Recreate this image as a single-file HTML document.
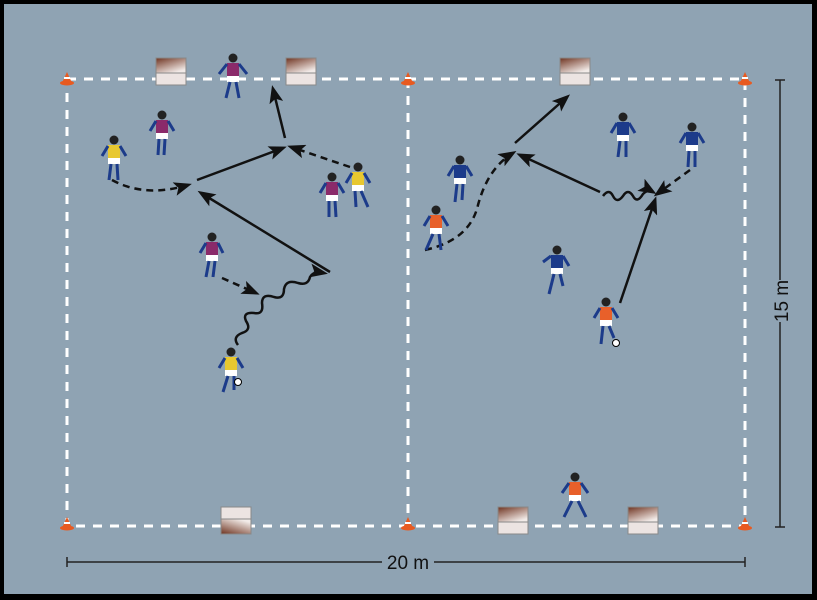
<!DOCTYPE html>
<html><head><style>body{margin:0}svg{display:block}</style></head><body>
<svg width="817" height="600" viewBox="0 0 817 600" xmlns="http://www.w3.org/2000/svg">
<defs>
<marker id="a" markerWidth="18" markerHeight="14" refX="14" refY="7" orient="auto" markerUnits="userSpaceOnUse" viewBox="0 0 18 14"><path d="M0,0 L18,7 L0,14 L4,7 z" fill="#111"/></marker>
<linearGradient id="bx" x1="0" y1="0" x2="0.6" y2="1"><stop offset="0" stop-color="#6e3320"/><stop offset="1" stop-color="#f2ebe8"/></linearGradient>
<g id="box"><rect x="0" y="0" width="30" height="15" fill="url(#bx)" stroke="#888"/><rect x="0" y="15" width="30" height="12" fill="#ece4e2" stroke="#888"/></g>
<g id="cone"><path d="M-5,4 L0,-7 L5,4 z" fill="#e85a20"/><ellipse cx="0" cy="4" rx="7" ry="2.5" fill="#e85a20"/><rect x="-3" y="-2" width="6" height="2" fill="#fff"/></g>
</defs>
<rect width="817" height="600" fill="#000"/>
<rect x="4" y="4" width="808" height="590" fill="#8fa3b3"/>
<g stroke="#fff" stroke-width="3" stroke-dasharray="9 8" fill="none">
<rect x="67" y="79" width="678" height="447"/>
<line x1="408" y1="79" x2="408" y2="526"/>
</g>
<use href="#cone" x="67" y="79"/><use href="#cone" x="408" y="79"/><use href="#cone" x="745" y="79"/>
<use href="#cone" x="67" y="524"/><use href="#cone" x="408" y="524"/><use href="#cone" x="745" y="524"/>
<use href="#box" x="156" y="58"/><use href="#box" x="286" y="58"/><use href="#box" x="560" y="58"/>
<g transform="translate(221,534) scale(1,-1)"><use href="#box"/></g>
<use href="#box" x="498" y="507"/><use href="#box" x="628" y="507"/>
<g stroke="#222" stroke-width="1.5">
<line x1="67" y1="562" x2="745" y2="562"/><line x1="67" y1="557" x2="67" y2="567"/><line x1="745" y1="557" x2="745" y2="567"/>
<line x1="780" y1="80" x2="780" y2="527"/><line x1="775" y1="80" x2="785" y2="80"/><line x1="775" y1="527" x2="785" y2="527"/>
</g>
<rect x="382" y="551" width="52" height="22" fill="#8fa3b3"/>
<text x="408" y="569" font-family="Liberation Sans, sans-serif" font-size="19" text-anchor="middle" fill="#111">20 m</text>
<rect x="770" y="280" width="22" height="42" fill="#8fa3b3"/>
<text x="0" y="0" transform="translate(788,301) rotate(-90)" font-family="Liberation Sans, sans-serif" font-size="19" text-anchor="middle" fill="#111">15 m</text>
<g stroke="#111" stroke-width="2.5" fill="none" marker-end="url(#a)">
<line x1="197" y1="180" x2="283" y2="148"/>
<line x1="330" y1="272" x2="201" y2="193"/>
<line x1="285" y1="138" x2="273" y2="89"/>
<line x1="350" y1="167" x2="291" y2="147" stroke-dasharray="7 5"/>
<path d="M112,180 Q145,198 188,185" stroke-dasharray="7 5"/>
<line x1="222" y1="278" x2="256" y2="293" stroke-dasharray="7 5"/>
<path d="M238,345 q-6,-8 4,-12 q10,-3 4,-12 q-4,-9 8,-8 q10,2 8,-10 q0,-10 12,-6 q10,3 10,-8 q2,-10 14,-6 q10,3 12,-6 q3,-6 14,-4" />
<line x1="515" y1="143" x2="567" y2="97"/>
<line x1="600" y1="192" x2="520" y2="155"/>
<line x1="620" y1="303" x2="655" y2="200"/>
<path d="M425,250 Q470,240 478,205 Q488,168 513,153" stroke-dasharray="7 5"/>
<line x1="690" y1="170" x2="657" y2="194" stroke-dasharray="7 5"/>
<path d="M603,196 q6,-8 10,0 q4,8 10,0 q5,-8 10,0 q4,8 10,-2 q5,-5 10,-2"/>
</g>
<g>
<g transform="translate(233,78)"><circle cx="0" cy="-20" r="4.5" fill="#222"/><rect x="-6" y="-15" width="12" height="13" fill="#8a2a6a"/><path d="M-6,-14 L-14,-4 M6,-14 L14,-4" stroke="#1c3b8a" stroke-width="3"/><rect x="-6" y="-2" width="12" height="6" fill="#fff"/><path d="M-3,4 L-7,20 M3,4 L6,20" stroke="#1c3b8a" stroke-width="3"/></g>
<g transform="translate(162,135)"><circle cx="0" cy="-20" r="4.5" fill="#222"/><rect x="-6" y="-15" width="12" height="13" fill="#8a2a6a"/><path d="M-6,-14 L-12,-4 M6,-14 L12,-4" stroke="#1c3b8a" stroke-width="3"/><rect x="-6" y="-2" width="12" height="6" fill="#fff"/><path d="M-3,4 L-4,20 M3,4 L2,20" stroke="#1c3b8a" stroke-width="3"/></g>
<g transform="translate(212,257)"><circle cx="0" cy="-20" r="4.5" fill="#222"/><rect x="-6" y="-15" width="12" height="13" fill="#8a2a6a"/><path d="M-6,-14 L-12,-4 M6,-14 L11,-4" stroke="#1c3b8a" stroke-width="3"/><rect x="-6" y="-2" width="12" height="6" fill="#fff"/><path d="M-3,4 L-6,20 M3,4 L1,20" stroke="#1c3b8a" stroke-width="3"/></g>
<g transform="translate(332,197)"><circle cx="0" cy="-20" r="4.5" fill="#222"/><rect x="-6" y="-15" width="12" height="13" fill="#8a2a6a"/><path d="M-6,-14 L-12,-4 M6,-14 L12,-4" stroke="#1c3b8a" stroke-width="3"/><rect x="-6" y="-2" width="12" height="6" fill="#fff"/><path d="M-3,4 L-3,20 M3,4 L4,20" stroke="#1c3b8a" stroke-width="3"/></g>
<g transform="translate(114,160)"><circle cx="0" cy="-20" r="4.5" fill="#222"/><rect x="-6" y="-15" width="12" height="13" fill="#e8c830"/><path d="M-6,-14 L-12,-4 M6,-14 L12,-4" stroke="#1c3b8a" stroke-width="3"/><rect x="-6" y="-2" width="12" height="6" fill="#fff"/><path d="M-3,4 L-5,20 M3,4 L4,20" stroke="#1c3b8a" stroke-width="3"/></g>
<g transform="translate(358,187)"><circle cx="0" cy="-20" r="4.5" fill="#222"/><rect x="-6" y="-15" width="12" height="13" fill="#e8c830"/><path d="M-6,-14 L-12,-4 M6,-14 L12,-4" stroke="#1c3b8a" stroke-width="3"/><rect x="-6" y="-2" width="12" height="6" fill="#fff"/><path d="M-3,4 L-2,20 M3,4 L10,20" stroke="#1c3b8a" stroke-width="3"/></g>
<g transform="translate(231,372)"><circle cx="0" cy="-20" r="4.5" fill="#222"/><rect x="-6" y="-15" width="12" height="13" fill="#e8c830"/><path d="M-6,-14 L-12,-4 M6,-14 L12,-4" stroke="#1c3b8a" stroke-width="3"/><rect x="-6" y="-2" width="12" height="6" fill="#fff"/><path d="M-3,4 L-8,20 M3,4 L3,18" stroke="#1c3b8a" stroke-width="3"/><circle cx="7" cy="10" r="3.5" fill="#fff" stroke="#000"/></g>
<g transform="translate(460,180)"><circle cx="0" cy="-20" r="4.5" fill="#222"/><rect x="-6" y="-15" width="12" height="13" fill="#1c3b8a"/><path d="M-6,-14 L-12,-4 M6,-14 L12,-4" stroke="#1c3b8a" stroke-width="3"/><rect x="-6" y="-2" width="12" height="6" fill="#fff"/><path d="M-3,4 L-5,22 M3,4 L2,20" stroke="#1c3b8a" stroke-width="3"/></g>
<g transform="translate(623,137)"><circle cx="0" cy="-20" r="4.5" fill="#222"/><rect x="-6" y="-15" width="12" height="13" fill="#1c3b8a"/><path d="M-6,-14 L-12,-4 M6,-14 L12,-4" stroke="#1c3b8a" stroke-width="3"/><rect x="-6" y="-2" width="12" height="6" fill="#fff"/><path d="M-3,4 L-5,20 M3,4 L3,20" stroke="#1c3b8a" stroke-width="3"/></g>
<g transform="translate(692,147)"><circle cx="0" cy="-20" r="4.5" fill="#222"/><rect x="-6" y="-15" width="12" height="13" fill="#1c3b8a"/><path d="M-6,-14 L-12,-4 M6,-14 L12,-4" stroke="#1c3b8a" stroke-width="3"/><rect x="-6" y="-2" width="12" height="6" fill="#fff"/><path d="M-3,4 L-4,20 M3,4 L3,20" stroke="#1c3b8a" stroke-width="3"/></g>
<g transform="translate(557,270)"><circle cx="0" cy="-20" r="4.5" fill="#222"/><rect x="-6" y="-15" width="12" height="13" fill="#1c3b8a"/><path d="M-6,-14 L-14,-8 M6,-14 L12,-4" stroke="#1c3b8a" stroke-width="3"/><rect x="-6" y="-2" width="12" height="6" fill="#fff"/><path d="M-3,4 L-8,24 M3,4 L6,16" stroke="#1c3b8a" stroke-width="3"/></g>
<g transform="translate(436,230)"><circle cx="0" cy="-20" r="4.5" fill="#222"/><rect x="-6" y="-15" width="12" height="13" fill="#e8602a"/><path d="M-6,-14 L-12,-4 M6,-14 L12,-4" stroke="#1c3b8a" stroke-width="3"/><rect x="-6" y="-2" width="12" height="6" fill="#fff"/><path d="M-3,4 L-10,20 M3,4 L5,20" stroke="#1c3b8a" stroke-width="3"/></g>
<g transform="translate(606,322)"><circle cx="0" cy="-20" r="4.5" fill="#222"/><rect x="-6" y="-15" width="12" height="13" fill="#e8602a"/><path d="M-6,-14 L-12,-4 M6,-14 L12,-4" stroke="#1c3b8a" stroke-width="3"/><rect x="-6" y="-2" width="12" height="6" fill="#fff"/><path d="M-3,4 L-5,22 M3,4 L8,16" stroke="#1c3b8a" stroke-width="3"/><circle cx="10" cy="21" r="3.5" fill="#fff" stroke="#000"/></g>
<g transform="translate(575,497)"><circle cx="0" cy="-20" r="4.5" fill="#222"/><rect x="-6" y="-15" width="12" height="13" fill="#e8602a"/><path d="M-6,-14 L-13,-4 M6,-14 L13,-4" stroke="#1c3b8a" stroke-width="3"/><rect x="-6" y="-2" width="12" height="6" fill="#fff"/><path d="M-3,4 L-11,20 M3,4 L11,20" stroke="#1c3b8a" stroke-width="3"/></g>
</g>
</svg>
</body></html>
